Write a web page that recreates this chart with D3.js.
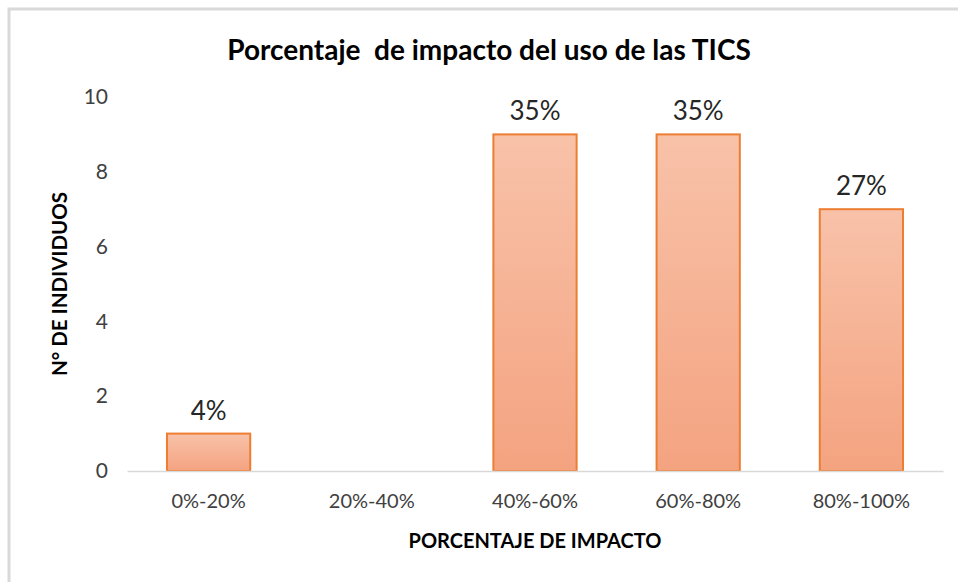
<!DOCTYPE html>
<html>
<head>
<meta charset="utf-8">
<script src="https://cdn.jsdelivr.net/npm/d3@7"></script>
<style>
  body { margin: 0; background: #fff; }
  text { font-family: Lato, "Open Sans", sans-serif; }
</style>
</head>
<body>
<script>
// data
var categories = ["0%-20%", "20%-40%", "40%-60%", "60%-80%", "80%-100%"];
var counts = [1, 0, 9, 9, 7];
var pctLabels = ["4%", "", "35%", "35%", "27%"];
var yTicks = [0, 2, 4, 6, 8, 10];

var W = 958, H = 582;
var margin = {top: 97, right: 15, bottom: 111, left: 127};
var width = W - margin.left - margin.right,
    height = H - margin.top - margin.bottom;

var svg = d3.select("body").append("svg")
  .attr("width", W)
  .attr("height", H);

// light frame on top and left edges
svg.append("path")
  .attr("d", "M9,582 L9,9 L958,9")
  .attr("fill", "none")
  .attr("stroke", "#d9d9d9")
  .attr("stroke-width", 3);

var defs = svg.append("defs");
var grad = defs.append("linearGradient")
  .attr("id", "barGrad")
  .attr("x1", 0).attr("y1", 0).attr("x2", 0).attr("y2", 1);
grad.append("stop").attr("offset", "0%").attr("stop-color", "#f8c2a9");
grad.append("stop").attr("offset", "100%").attr("stop-color", "#f4a380");

var g = svg.append("g")
  .attr("transform", "translate(" + margin.left + "," + margin.top + ")");

var x = d3.scaleBand().domain(categories).range([0, width]).paddingInner(0.49).paddingOuter(0.245);
var y = d3.scaleLinear().domain([0, 10]).range([height, 0]);

// y axis labels (no line)
var yAxis = g.append("g")
  .call(d3.axisLeft(y).tickValues(yTicks).tickSize(0).tickPadding(19));
yAxis.select(".domain").remove();
yAxis.selectAll("text")
  .style("font-size", "21px")
  .attr("fill", "#404040");

// bars
g.selectAll(".bar")
  .data(counts)
  .enter().append("rect")
  .attr("class", "bar")
  .attr("x", function(d, i) { return x(categories[i]); })
  .attr("width", x.bandwidth())
  .attr("y", function(d) { return y(d); })
  .attr("height", function(d) { return height - y(d); })
  .attr("fill", "url(#barGrad)")
  .attr("stroke", "#ed7d31")
  .attr("stroke-width", 2)
  .style("display", function(d) { return d > 0 ? null : "none"; });

// x axis
var xAxis = g.append("g")
  .attr("transform", "translate(0," + height + ")")
  .call(d3.axisBottom(x).tickSize(0).tickPadding(23));
xAxis.select(".domain").attr("stroke", "#d9d9d9").attr("stroke-width", 1.5);
xAxis.selectAll("text")
  .style("font-size", "20px")
  .attr("fill", "#404040");

// data labels
g.selectAll(".lbl")
  .data(counts)
  .enter().append("text")
  .attr("class", "lbl")
  .attr("x", function(d, i) { return x(categories[i]) + x.bandwidth() / 2; })
  .attr("y", function(d) { return y(d) - 14; })
  .attr("text-anchor", "middle")
  .style("font-size", "26px")
  .attr("fill", "#262626")
  .text(function(d, i) { return pctLabels[i]; });

// title
svg.append("text")
  .attr("x", 489)
  .attr("y", 60)
  .attr("text-anchor", "middle")
  .style("font-size", "28px")
  .style("font-weight", "bold")
  .attr("fill", "#000")
  .attr("xml:space", "preserve")
  .text("Porcentaje  de impacto del uso de las TICS");

// axis titles
svg.append("text")
  .attr("x", margin.left + width / 2)
  .attr("y", 548)
  .attr("text-anchor", "middle")
  .style("font-size", "20px")
  .style("font-weight", "bold")
  .attr("fill", "#000")
  .text("PORCENTAJE DE IMPACTO");

svg.append("text")
  .attr("transform", "translate(67," + (margin.top + height / 2) + ") rotate(-90)")
  .attr("text-anchor", "middle")
  .style("font-size", "20.5px")
  .style("font-weight", "bold")
  .attr("fill", "#000")
  .text("N° DE INDIVIDUOS");
</script>
</body>
</html>
